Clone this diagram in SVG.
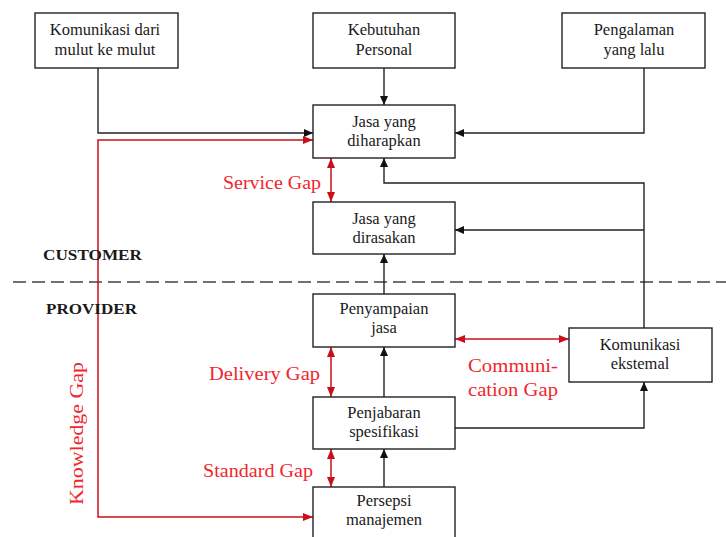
<svg xmlns="http://www.w3.org/2000/svg" width="726" height="537" viewBox="0 0 726 537">
<style>
.box{fill:#fff;stroke:#222;stroke-width:1.4}
.bt{font-family:"Liberation Serif",serif;font-size:16.5px;fill:#1a1a1a;text-anchor:middle}
.c{fill:none;stroke:#222;stroke-width:1.4}
.r{fill:none;stroke:#c8101a;stroke-width:1.5}
.rt{font-family:"Liberation Serif",serif;font-size:19px;fill:#f0262e}
.hd{font-family:"Liberation Serif",serif;font-size:14px;font-weight:bold;fill:#1a1a1a}
</style>
<defs>
<marker id="ab" markerUnits="userSpaceOnUse" markerWidth="10" markerHeight="10" refX="9" refY="5" orient="auto-start-reverse"><path d="M0,1 L9,5 L0,9 Z" fill="#111"/></marker>
<marker id="ar" markerUnits="userSpaceOnUse" markerWidth="11" markerHeight="10" refX="10" refY="5" orient="auto-start-reverse"><path d="M0,1 L10,5 L0,9 Z" fill="#c8101a"/></marker>
</defs>
<rect width="726" height="537" fill="#fff"/>
<line x1="13" y1="282" x2="726" y2="282" stroke="#707070" stroke-width="2" stroke-dasharray="13 6"/>
<g id="connectors">
<path class="c" d="M98,68 V133 H313" marker-end="url(#ab)"/>
<path class="c" d="M384,68 V105" marker-end="url(#ab)"/>
<path class="c" d="M644,68 V133 H455" marker-end="url(#ab)"/>
<path class="c" d="M644,328 V183 H384 V158" marker-end="url(#ab)"/>
<path class="c" d="M644,230 H455" marker-end="url(#ab)"/>
<path class="c" d="M384,294 V254" marker-end="url(#ab)"/>
<path class="c" d="M384,397 V347" marker-end="url(#ab)"/>
<path class="c" d="M384,487 V449" marker-end="url(#ab)"/>
<path class="c" d="M455,428 H644 V382" marker-end="url(#ab)"/>
<path class="r" d="M313,140 H98 V517 H313" marker-start="url(#ar)" marker-end="url(#ar)"/>
<path class="r" d="M331,158 V202" marker-start="url(#ar)" marker-end="url(#ar)"/>
<path class="r" d="M331,347 V397" marker-start="url(#ar)" marker-end="url(#ar)"/>
<path class="r" d="M331,449 V487" marker-start="url(#ar)" marker-end="url(#ar)"/>
<path class="r" d="M455,339 H569" marker-start="url(#ar)" marker-end="url(#ar)"/>
</g>
<g id="n-mulut"><rect class="box" x="35" y="13" width="143" height="55"/><text class="bt" x="105" y="35">Komunikasi dari</text><text class="bt" x="105" y="55">mulut ke mulut</text></g>
<g id="n-kebutuhan"><rect class="box" x="313" y="13" width="142" height="55"/><text class="bt" x="384" y="35">Kebutuhan</text><text class="bt" x="384" y="55">Personal</text></g>
<g id="n-pengalaman"><rect class="box" x="562" y="13" width="143" height="55"/><text class="bt" x="634" y="35">Pengalaman</text><text class="bt" x="634" y="55">yang lalu</text></g>
<g id="n-diharapkan"><rect class="box" x="313" y="105" width="142" height="53"/><text class="bt" x="384" y="127">Jasa yang</text><text class="bt" x="384" y="146">diharapkan</text></g>
<g id="n-dirasakan"><rect class="box" x="313" y="202" width="142" height="52"/><text class="bt" x="384" y="224">Jasa yang</text><text class="bt" x="384" y="243">dirasakan</text></g>
<g id="n-penyampaian"><rect class="box" x="313" y="294" width="142" height="53"/><text class="bt" x="384" y="314">Penyampaian</text><text class="bt" x="384" y="333">jasa</text></g>
<g id="n-penjabaran"><rect class="box" x="313" y="397" width="142" height="52"/><text class="bt" x="384" y="418">Penjabaran</text><text class="bt" x="384" y="437">spesifikasi</text></g>
<g id="n-persepsi"><rect class="box" x="313" y="487" width="142" height="60"/><text class="bt" x="384" y="506">Persepsi</text><text class="bt" x="384" y="525">manajemen</text></g>
<g id="n-eksternal"><rect class="box" x="569" y="328" width="143" height="54"/><text class="bt" x="640" y="350">Komunikasi</text><text class="bt" x="640" y="369">ekstemal</text></g>
<g id="labels">
<text class="hd" x="43" y="260" textLength="99" lengthAdjust="spacingAndGlyphs">CUSTOMER</text>
<text class="hd" x="46" y="314" textLength="91" lengthAdjust="spacingAndGlyphs">PROVIDER</text>
<text class="rt" x="223" y="189" textLength="98" lengthAdjust="spacingAndGlyphs">Service Gap</text>
<text class="rt" x="209" y="380" textLength="111" lengthAdjust="spacingAndGlyphs">Delivery Gap</text>
<text class="rt" x="203" y="477" textLength="110" lengthAdjust="spacingAndGlyphs">Standard Gap</text>
<text class="rt" x="468" y="372" textLength="90" lengthAdjust="spacingAndGlyphs">Communi-</text>
<text class="rt" x="468" y="396" textLength="90" lengthAdjust="spacingAndGlyphs">cation Gap</text>
<text class="rt" transform="translate(83,505) rotate(-90)" textLength="143" lengthAdjust="spacingAndGlyphs">Knowledge Gap</text>
</g>
</svg>
